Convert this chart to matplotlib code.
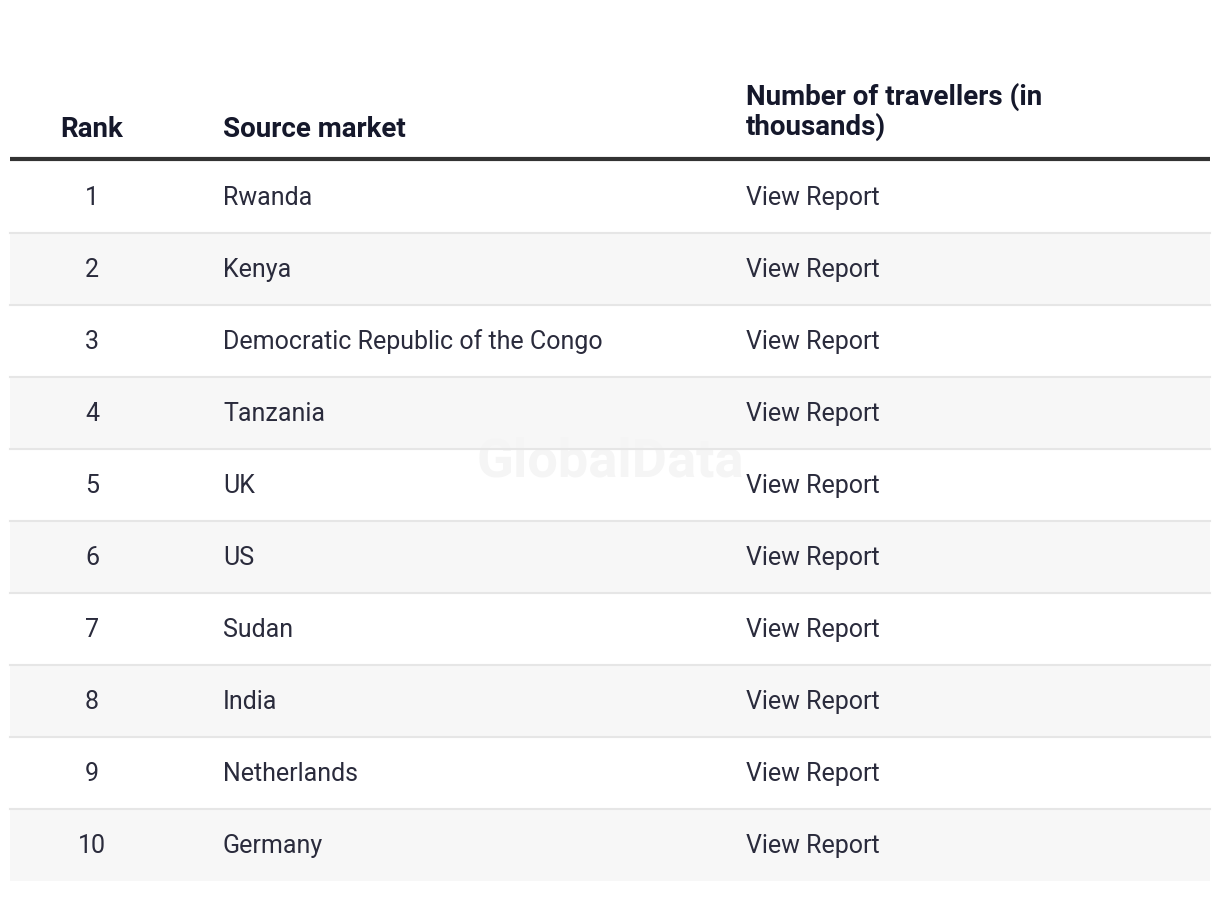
import matplotlib.pyplot as plt
from matplotlib.patches import Rectangle

# Données du tableau
ranks = [1, 2, 3, 4, 5, 6, 7, 8, 9, 10]
markets = ["Rwanda", "Kenya", "Democratic Republic of the Congo", "Tanzania", "UK",
           "US", "Sudan", "India", "Netherlands", "Germany"]
travellers = ["View Report"] * 10
headers = ["Rank", "Source market", "Number of travellers (in\nthousands)"]

W, H = 1220, 922
fig = plt.figure(figsize=(W / 100, H / 100), dpi=100)
ax = fig.add_axes([0, 0, 1, 1])
ax.set_xlim(0, W)
ax.set_ylim(H, 0)
ax.axis("off")

left, right = 10, 1210
top_rows = 161
row_h = 72
col_rank, col_market, col_num = 92, 223, 746
txt_col = "#2a2b3c"
head_col = "#15182b"
fs_row, fs_head = 18, 20

# En-têtes
ax.text(col_rank, 137, headers[0], ha="center", va="baseline", fontsize=fs_head,
        fontweight="bold", color=head_col, family="Roboto")
ax.text(col_market, 137, headers[1], ha="left", va="baseline", fontsize=fs_head,
        fontweight="bold", color=head_col, family="Roboto")
ax.text(col_num, 135, headers[2], ha="left", va="baseline", fontsize=fs_head,
        fontweight="bold", color=head_col, family="Roboto", linespacing=1.1)

# Lignes du tableau
for i, (r, m, t) in enumerate(zip(ranks, markets, travellers)):
    y0 = top_rows + i * row_h
    if i % 2 == 1:
        ax.add_patch(Rectangle((left, y0), right - left, row_h, color="#f7f7f7", lw=0, zorder=0))
    if i < len(ranks) - 1:
        ax.plot([left, right], [y0 + row_h, y0 + row_h], color="#e6e6e6", lw=1.5, zorder=1)
    yc = y0 + row_h / 2 + 1
    for x, s, ha in [(col_rank, str(r), "center"), (col_market, m, "left"), (col_num, t, "left")]:
        ax.text(x, yc, s, ha=ha, va="center", fontsize=fs_row,
                fontweight="normal", color=txt_col, family="Roboto", zorder=3)

# Ligne épaisse sous l'en-tête
ax.plot([left, right], [159.5, 159.5], color="#333333", lw=3, solid_capstyle="butt", zorder=2)

# Filigrane
ax.text(610, 462, "GlobalData", ha="center", va="center", fontsize=39,
        fontweight="bold", color="#f5f5f5", family="Roboto", zorder=0.5)

fig.savefig("out.png", dpi=100, facecolor="white")
